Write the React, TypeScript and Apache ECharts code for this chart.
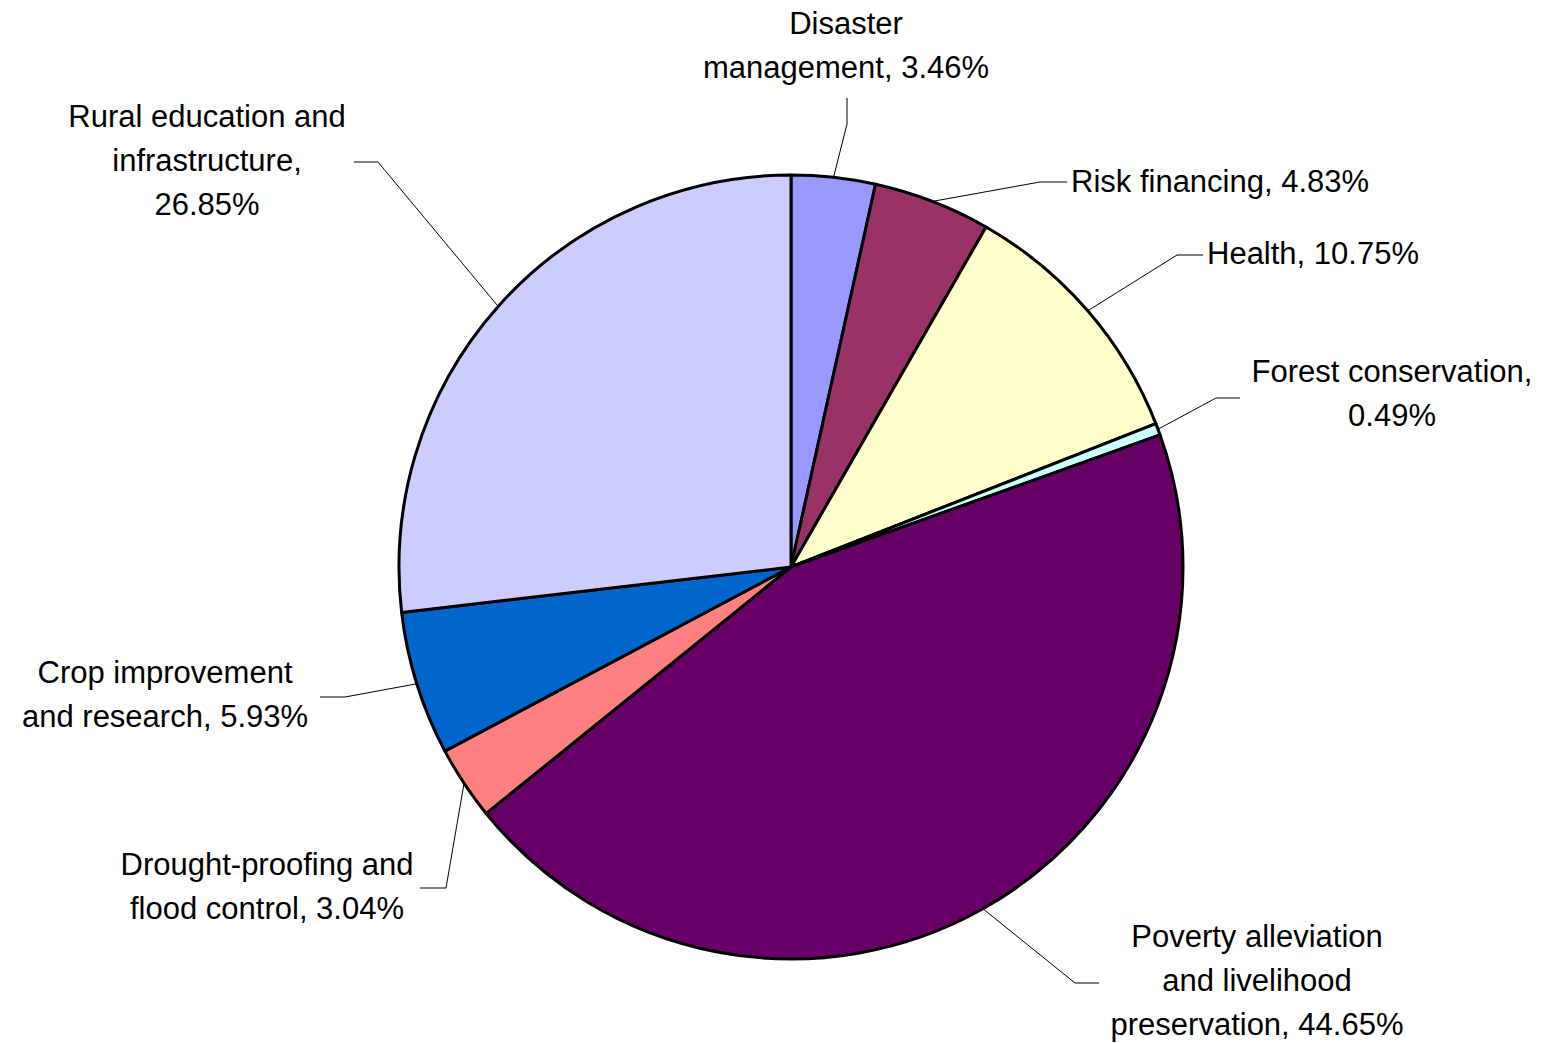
import React, { useEffect, useRef } from "react";
import * as echarts from "echarts";

const categories = [
  "Disaster\nmanagement",
  "Risk financing",
  "Health",
  "Forest conservation",
  "Poverty alleviation\nand livelihood\npreservation",
  "Drought-proofing and\nflood control",
  "Crop improvement\nand research",
  "Rural education and\ninfrastructure",
];
const values = [3.46, 4.83, 10.75, 0.49, 44.65, 3.04, 5.93, 26.85];
const separators = [", ", ", ", ", ", ",\n", ", ", ", ", ", ", ",\n"];
const colors = ["#9999FF", "#993366", "#FFFFCC", "#CCFFFF", "#660066", "#FF8080", "#0066CC", "#CCCCFF"];

// label layout (position of the text block and leader-line elbow / end)
const placement = [
  { x: 846, y: 45, align: "center", elbow: [847, 124], end: [847, 98] },
  { x: 1071, y: 181, align: "left", elbow: [1040, 182], end: [1067, 182] },
  { x: 1207, y: 253, align: "left", elbow: [1177, 255], end: [1203, 255] },
  { x: 1392, y: 393, align: "center", elbow: [1216, 398], end: [1240, 398] },
  { x: 1257, y: 980, align: "center", elbow: [1075, 983], end: [1099, 983] },
  { x: 267, y: 886, align: "center", elbow: [446, 888], end: [420, 888] },
  { x: 165, y: 694, align: "center", elbow: [345, 697], end: [320, 697] },
  { x: 207, y: 160, align: "center", elbow: [378, 162], end: [354, 162] },
];

export default function App() {
  const ref = useRef<HTMLDivElement>(null);
  useEffect(() => {
    if (!ref.current) return;
    const chart = echarts.init(ref.current, undefined, { renderer: "svg" });
    chart.setOption({
      animation: false,
      backgroundColor: "#ffffff",
      series: [
        {
          type: "pie",
          center: [791, 567],
          radius: 392,
          startAngle: 90,
          clockwise: true,
          avoidLabelOverlap: false,
          data: categories.map((name, i) => ({
            name,
            value: values[i],
            itemStyle: { color: colors[i] },
          })),
          itemStyle: { borderColor: "#000000", borderWidth: 3 },
          label: {
            show: true,
            position: "outside",
            color: "#000000",
            fontFamily: "'Liberation Sans', Arial, sans-serif",
            fontSize: 31,
            lineHeight: 44,
            formatter: (p: any) => `${p.name}${separators[p.dataIndex]}${values[p.dataIndex].toFixed(2)}%`,
          },
          labelLine: {
            show: true,
            lineStyle: { color: "#000000", width: 1 },
          },
          labelLayout: (params: any) => {
            const pl = placement[params.dataIndex];
            const anchor = params.labelLinePoints ? params.labelLinePoints[0] : pl.elbow;
            return {
              x: pl.x,
              y: pl.y,
              align: pl.align,
              verticalAlign: "middle",
              labelLinePoints: [anchor, pl.elbow, pl.end],
            };
          },
          emphasis: { disabled: true },
        },
      ],
    });
    return () => chart.dispose();
  }, []);
  return (
    <div
      ref={ref}
      style={{ position: "absolute", left: 0, top: 0, width: 1550, height: 1043 }}
    />
  );
}
